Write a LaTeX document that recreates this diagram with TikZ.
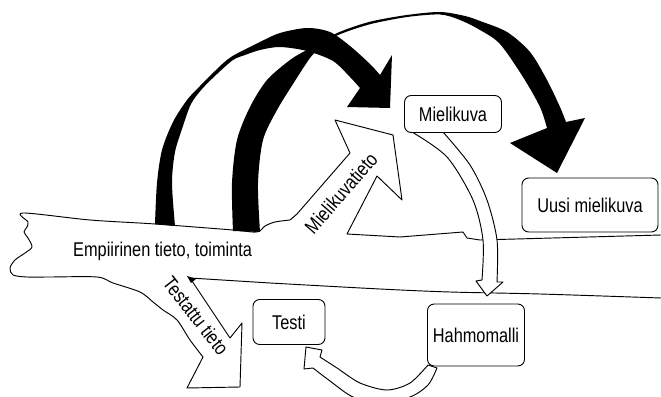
\documentclass[tikz,border=0pt]{standalone}
\usepackage{fontspec}
\setmainfont[FakeStretch=0.82]{Liberation Sans}
\tikzset{
  box/.style = {draw, fill=white, rounded corners=0.2cm, line width=0.8pt,
    font=\fontsize{17}{20}\selectfont},
  flowtext/.style = {font=\fontsize{17}{20}\selectfont, inner sep=0pt},
  band/.style = {draw, line width=0.8pt, line join=round},
  ribbon/.style = {fill=black},
  hollow/.style = {draw, fill=white, line width=0.8pt, line join=round}
}

\begin{document}
\begin{tikzpicture}[x=0.03cm, y=-0.03cm]
  \useasboundingbox (0,0) rectangle (661,397);
  \clip (0,0) rectangle (661,397);
  %
  % the wide band with its two branches
  \draw[band] (661,235) -- (480,240) -- (467,238) -- (463,232) -- (400,237) -- (347,234)
    -- (377,176) -- (402,200) -- (393,135) -- (335,120) -- (350,153) -- (297,214)
    -- plot[smooth] coordinates {(290,220) (275,222) (265,226) (257,232) (233,230) (155,224) (90,220) (23,213)
      (28,222) (27,227) (24,232) (28,238) (32,247) (25,253) (15,260) (10,268) (13,275) (27,277)
      (50,277) (97,277) (113,283) (140,292) (153,302) (163,310) (177,320) (190,340) (203,357)}
    -- (187,388) -- (240,387) -- (242,323) -- (230,338) -- (190,278)
    -- plot[smooth] coordinates {(270,283) (380,289) (450,292) (540,294) (661,298)};
  \fill (187,276) -- (196,279) -- (191,283) -- cycle;
  %
  % black ribbons
  \fill[ribbon] plot[smooth] coordinates {(155,224) (157,183) (162,150) (173,122) (187,100)
      (200,86) (215,71) (231,57) (260,42) (280,33) (307,28) (330,32) (350,46) (370,64) (380,75)}
    -- (392,55) -- (390,108) -- (347,107)
    -- plot[smooth] coordinates {(360,88) (350,77) (333,61) (307,51) (280,47) (260,50) (245,55)
      (233,60) (217,74) (202,89) (191,104) (183,126) (175,152) (172,183) (175,226)} -- cycle;
  \fill[ribbon] plot[smooth] coordinates {(233,231) (232,183) (237,140) (250,107) (267,80)
      (290,60) (305,51) (318,45) (333,35) (350,28) (373,21) (407,15) (440,12) (465,16) (480,21)
      (507,32) (530,52) (547,80) (560,107) (566,122)}
    -- (585,118) -- (557,173) -- (510,143)
    -- plot[smooth] coordinates {(547,128) (540,107) (523,77) (500,44) (480,30) (460,20)
      (440,14.5) (407,17) (373,23.5) (350,30.5) (333,37.5) (320,48) (310,58) (293,84)
      (277,110) (263,140) (258,183) (260,232)} -- cycle;
  %
  % white arrows
  \draw[hollow] plot[smooth] coordinates {(412,132) (447,157) (473,200) (483,240) (482,280)}
    -- (476,281) -- (487,296) -- (503,282)
    -- plot[smooth] coordinates {(497,282) (497,240) (487,200) (470,165) (443,132)} -- cycle;
  \draw[hollow] plot[smooth] coordinates {(437,368) (428,385) (410,397) (380,403) (353,397) (330,381) (313,368)}
    -- (304,369) -- (306,347) -- (322,350)
    -- plot[smooth] coordinates {(320,357) (337,368) (360,383) (387,390) (410,383) (428,365)} -- cycle;
  %
  \node[box, minimum width=2.91cm, minimum height=1.11cm] (mielikuva) at (453,114) {Mielikuva};
  \node[box, minimum width=4.08cm, minimum height=1.62cm] (uusi) at (590,205) {Uusi mielikuva};
  \node[box, minimum width=2.16cm, minimum height=1.35cm] (testi) at (289,322) {Testi};
  \node[box, minimum width=2.91cm, minimum height=1.86cm, inner sep=1pt] (hahmo) at (476,335) {Hahmomalli};
  %
  \node[flowtext, anchor=base west] (empiria) at (73,257) {Empiirinen tieto, toiminta};
  \node[flowtext, rotate=49] (mtieto) at (341,193) {Mielikuvatieto};
  \node[flowtext, rotate=-52] (ttieto) at (196,316) {Testattu tieto};
\end{tikzpicture}
\end{document}
